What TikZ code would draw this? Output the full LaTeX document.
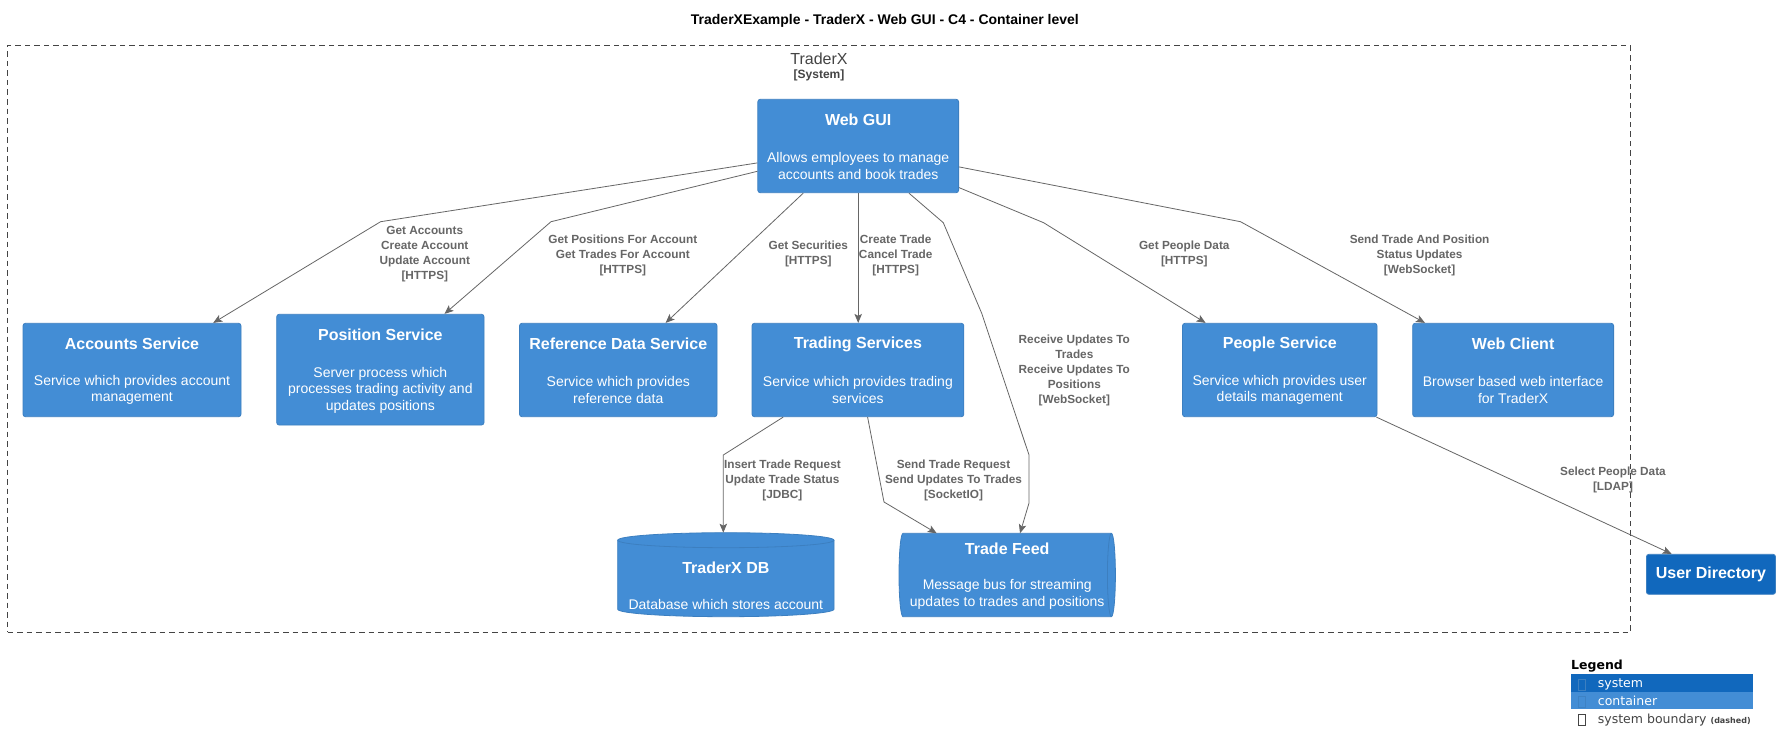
\documentclass[tikz,border=0pt]{standalone}
\usepackage{fontspec}
\setmainfont{Liberation Sans}
\newfontfamily\dvs{DejaVu Sans}
\usetikzlibrary{arrows.meta,calc}
\definecolor{contC}{HTML}{438DD5}
\definecolor{sysC}{HTML}{1168BD}
\definecolor{bordC}{HTML}{3C7FC0}
\definecolor{relC}{HTML}{666666}
\definecolor{bndC}{HTML}{444444}
\begin{document}
\begin{tikzpicture}[x=1pt,y=-1pt,
  box/.style={draw=bordC, fill=contC, rounded corners=2.5pt, inner sep=0pt, line width=0.8pt},
  sysbox/.style={draw=bordC, fill=sysC, rounded corners=2.5pt, inner sep=0pt, line width=0.8pt},
  anchorbox/.style={inner sep=0pt, outer sep=0pt},
  ttl/.style={text=white, font=\bfseries\fontsize{16}{19}\selectfont, inner sep=0pt},
  dsc/.style={text=white, font=\fontsize{14}{16.6}\selectfont, align=center, inner sep=0pt},
  lbl/.style={text=relC, font=\bfseries\fontsize{11.8}{15}\selectfont, align=center, inner sep=0pt},
  rel/.style={draw=relC, line width=0.8pt, -{Stealth[length=9pt,width=7.5pt,inset=2pt]}},
  legtxt/.style={font=\dvs\fontsize{12.5}{14}\selectfont, inner sep=0pt, anchor=west}
]
\useasboundingbox (0,0) rectangle (1783,753);
\fill[white] (0,0) rectangle (1783,753);

% title
\node[font=\bfseries\fontsize{14}{16}\selectfont, inner sep=0pt] (title) at (884.9,20.5) {TraderXExample - TraderX - Web GUI - C4 - Container level};

% system boundary
\node[draw=bndC, dash pattern=on 5.5pt off 4pt, line width=0.8pt, minimum width=1622.8pt, minimum height=586.6pt, inner sep=0pt] (bnd) at (818.9,339) {};
\node[text=bndC, font=\fontsize{16}{19}\selectfont, inner sep=0pt] (bndname) at (819,58.3) {TraderX};
\node[text=bndC, font=\bfseries\fontsize{12}{14}\selectfont, inner sep=0pt] (bndtype) at (819,75.7) {[System]};

% containers
\node[box, minimum width=200.8pt, minimum height=93.4pt] (webgui) at (858.2,146) {};
\node[ttl] (webguiT) at (858.2,120) {Web GUI};
\node[dsc] (webguiD) at (858.2,165.7) {Allows employees to manage\\accounts and book trades};

\node[box, minimum width=218pt, minimum height=93.4pt] (acc) at (132,370) {};
\node[ttl] (accT) at (132,344) {Accounts Service};
\node[dsc] (accD) at (132,390) {Service which provides account\\management};

\node[box, minimum width=207.3pt, minimum height=110.7pt] (pos) at (380.35,369.65) {};
\node[ttl] (posT) at (380.35,335) {Position Service};
\node[dsc] (posD) at (380.35,390) {Server process which\\processes trading activity and\\updates positions};

\node[box, minimum width=197.5pt, minimum height=93.4pt] (ref) at (618.25,370) {};
\node[ttl] (refT) at (618.25,344) {Reference Data Service};
\node[dsc] (refD) at (618.25,390) {Service which provides\\reference data};

\node[box, minimum width=211.8pt, minimum height=93.4pt] (trd) at (857.9,370) {};
\node[ttl] (trdT) at (857.9,344) {Trading Services};
\node[dsc] (trdD) at (857.9,390) {Service which provides trading\\services};

\node[box, minimum width=194.5pt, minimum height=93.4pt] (ppl) at (1279.75,370) {};
\node[ttl] (pplT) at (1279.75,344) {People Service};
\node[dsc] (pplD) at (1279.75,390) {Service which provides user\\details management};

\node[box, minimum width=200.9pt, minimum height=93.4pt] (wcl) at (1513.15,370) {};
\node[ttl] (wclT) at (1513.15,344) {Web Client};
\node[dsc] (wclD) at (1513.15,390) {Browser based web interface\\for TraderX};

% database
\node[anchorbox, minimum width=216.3pt, minimum height=84pt] (db) at (725.85,574.7) {};
\path[draw=bordC, fill=contC, line width=0.8pt]
  (617.7,540.2) -- (617.7,609.2)
  arc[start angle=180, end angle=360, x radius=108.15pt, y radius=7.5pt]
  -- (834,540.2)
  arc[start angle=0, end angle=180, x radius=108.15pt, y radius=7.5pt] -- cycle;
\draw[bordC, line width=0.8pt] (617.7,540.2) arc[start angle=180, end angle=360, x radius=108.15pt, y radius=7.5pt];
\node[ttl] (dbT) at (725.85,567.3) {TraderX DB};
\node[dsc] (dbD) at (725.85,604.3) {Database which stores account};

% queue
\node[anchorbox, minimum width=216.4pt, minimum height=83.4pt] (feed) at (1007.2,575) {};
\path[draw=bordC, fill=contC, line width=0.8pt]
  (903,533.3) -- (1111.4,533.3)
  arc[start angle=90, end angle=-90, x radius=4pt, y radius=41.7pt]
  -- (903,616.7)
  arc[start angle=270, end angle=90, x radius=4pt, y radius=41.7pt] -- cycle;
\draw[bordC, line width=0.8pt] (1111.4,533.3) arc[start angle=90, end angle=270, x radius=4pt, y radius=41.7pt];
\node[ttl] (feedT) at (1007.2,549) {Trade Feed};
\node[dsc] (feedD) at (1007.2,594.2) {Message bus for streaming\\updates to trades and positions};

% external system
\node[sysbox, minimum width=129.1pt, minimum height=40pt, text=white, font=\bfseries\fontsize{16}{19}\selectfont] (udir) at (1710.95,574.3) {User Directory};

% bend points
\coordinate (k1) at (380.6,221.7);
\coordinate (k2) at (551,221.7);
\coordinate (k5a) at (943.3,222.7);
\coordinate (k5b) at (981.7,313.3);
\coordinate (k5c) at (1029,455);
\coordinate (k5d) at (1029,503);
\coordinate (k6) at (723.3,455);
\coordinate (k7) at (884,502);
\coordinate (k8) at (1043.6,222.7);
\coordinate (k9) at (1240.5,221.7);

% connectors
\draw[rel] ($(webgui.north west)+(0,64)$) -- (k1) -- ($(acc.north west)+(190.6,0)$);
\draw[rel] ($(webgui.north west)+(0,72.4)$) -- (k2) -- ($(pos.north west)+(168.2,0)$);
\draw[rel] ($(webgui.south west)+(45.9,0)$) -- ($(ref.north west)+(146.5,0)$);
\draw[rel] (webgui.south) -- (webgui.south |- trd.north);
\draw[rel] ($(webgui.south west)+(151.5,0)$) -- (k5a) -- (k5b) -- (k5c) -- (k5d) -- ($(feed.north west)+(121,0)$);
\draw[rel] ($(trd.south west)+(31.6,0)$) -- (k6) -- ($(db.north west)+(105.6,0)$);
\draw[rel] ($(trd.south west)+(116,0)$) -- (k7) -- ($(feed.north west)+(37.7,0)$);
\draw[rel] ($(webgui.north east)+(0,88.7)$) -- (k8) -- ($(ppl.north west)+(23.5,0)$);
\draw[rel] ($(webgui.north east)+(0,68)$) -- (k9) -- ($(wcl.north west)+(12.7,0)$);
\draw[rel] ($(ppl.south east)+(-1,0)$) -- ($(udir.north west)+(25.6,0)$);

% labels
\node[lbl] (l1) at (424.8,254.2) {Get Accounts\\Create Account\\Update Account\\{[HTTPS]}};
\node[lbl] (l2) at (622.8,255) {Get Positions For Account\\Get Trades For Account\\{[HTTPS]}};
\node[lbl] (l3) at (808.3,254.2) {Get Securities\\{[HTTPS]}};
\node[lbl] (l4) at (895.7,255) {Create Trade\\Cancel Trade\\{[HTTPS]}};
\node[lbl] (l5) at (1074.3,370.5) {Receive Updates To\\Trades\\Receive Updates To\\Positions\\{[WebSocket]}};
\node[lbl] (l6) at (782.4,480) {Insert Trade Request\\Update Trade Status\\{[JDBC]}};
\node[lbl] (l7) at (953.5,480) {Send Trade Request\\Send Updates To Trades\\{[SocketIO]}};
\node[lbl] (l8) at (1184.3,254.2) {Get People Data\\{[HTTPS]}};
\node[lbl] (l9) at (1419.6,255) {Send Trade And Position\\Status Updates\\{[WebSocket]}};
\node[lbl] (l10) at (1613,480.2) {Select People Data\\{[LDAP]}};

% legend
\node[legtxt, font=\dvs\bfseries\fontsize{12.5}{14}\selectfont] (legT) at (1571,665.7) {Legend};
\node[fill=sysC, inner sep=0pt, anchor=north west, minimum width=181.7pt, minimum height=17.3pt] (legsys) at (1571,674) {};
\node[fill=contC, inner sep=0pt, anchor=north west, minimum width=181.7pt, minimum height=17.7pt] (legcont) at (1571,691.3) {};
\draw[bordC, line width=0.6pt] (1578.3,679) rectangle (1585,690);
\draw[bordC!80!contC, line width=0.6pt] (1578.3,696) rectangle (1585,707);
\draw[bndC, line width=0.6pt] (1578.3,714.5) rectangle (1585,725.5);
\node[legtxt, text=white] (legsysT) at (1597.7,684.3) {system};
\node[legtxt, text=white] (legcontT) at (1597.7,701) {container};
\node[legtxt, text=bndC] (legbndT) at (1597.7,720) {system boundary \raisebox{-0.5pt}{\bfseries\fontsize{8}{9}\selectfont(dashed)}};
\end{tikzpicture}
\end{document}
